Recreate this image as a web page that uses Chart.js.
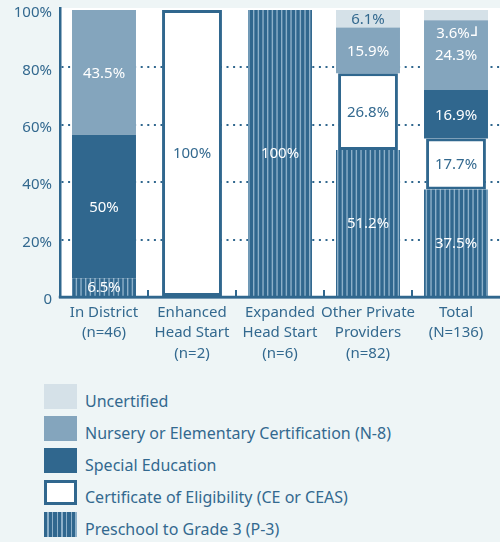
<!DOCTYPE html>
<html>
<head>
<meta charset="utf-8">
<script src="https://cdn.jsdelivr.net/npm/chart.js@4.4.1/dist/chart.umd.min.js"></script>
<style>
  html, body { margin: 0; padding: 0; background: #eef5f6; }
  body { width: 500px; height: 542px; position: relative; overflow: hidden; font-family: "Noto Sans", sans-serif; }
  #wrap { position: absolute; left: 0; top: 0; width: 500px; height: 370px; }
  #legend { position: absolute; left: 44px; top: 384px; }
  .item { position: relative; height: 32px; }
  .sw { position: absolute; left: 0; top: 0; width: 33px; height: 25px; box-sizing: border-box; }
  .txt { position: absolute; left: 41px; top: 7px; font-size: 16px; color: #33698f; white-space: nowrap; line-height: 20px; }
</style>
</head>
<body>
<div id="wrap"><canvas id="chart"></canvas></div>
<div id="legend"></div>
<script>
const categories = [
  ['In District', '(n=46)'],
  ['Enhanced', 'Head Start', '(n=2)'],
  ['Expanded', 'Head Start', '(n=6)'],
  ['Other Private', 'Providers', '(n=82)'],
  ['Total', '(N=136)'],
];
const preschoolP3 = [6.5, 0, 100, 51.2, 37.5];
const eligibilityCE = [0, 100, 0, 26.8, 17.7];
const specialEd = [50, 0, 0, 0, 16.9];
const nurseryN8 = [43.5, 0, 0, 15.9, 24.3];
const uncertified = [0, 0, 0, 6.1, 3.6];
const yTicks = [0, 20, 40, 60, 80, 100];

const DARK = '#30678e';
const TEXT = '#33698f';
const MID = '#84a5bd';
const LIGHT = '#d5e1e8';

function stripePattern() {
  const c = document.createElement('canvas');
  c.width = 14; c.height = 10;
  const g = c.getContext('2d');
  g.fillStyle = DARK;
  g.fillRect(0, 0, 14, 10);
  g.fillStyle = '#8db0c9';
  [1, 5.67, 10.33].forEach((x) => g.fillRect(x, 0, 1.4, 10));
  return g.createPattern(c, 'repeat');
}
const stripes = stripePattern();

const labelColors = ['#ffffff', TEXT, '#ffffff', '#ffffff', TEXT];

// white plot area behind the grid
const plotBg = {
  id: 'plotBg',
  beforeDraw(chart) {
    const { ctx, chartArea: a } = chart;
    ctx.save();
    ctx.fillStyle = '#ffffff';
    ctx.fillRect(a.left, a.top, a.right - a.left, a.bottom - a.top);
    ctx.restore();
  },
};

// baseline + little upward ticks between categories
const baseTicks = {
  id: 'baseTicks',
  afterDatasetsDraw(chart) {
    const { ctx, chartArea: a, scales: { x } } = chart;
    ctx.save();
    ctx.strokeStyle = DARK;
    ctx.lineWidth = 2.5;
    ctx.beginPath();
    ctx.moveTo(a.left - 1.25, a.bottom);
    ctx.lineTo(a.right, a.bottom);
    ctx.stroke();
    ctx.lineWidth = 2;
    for (let i = 1; i < categories.length; i++) {
      const px = (x.getPixelForValue(i - 1) + x.getPixelForValue(i)) / 2;
      ctx.beginPath();
      ctx.moveTo(px, a.bottom);
      ctx.lineTo(px, a.bottom - 7);
      ctx.stroke();
    }
    ctx.restore();
  },
};

const barLabels = {
  id: 'barLabels',
  afterDatasetsDraw(chart) {
    const { ctx } = chart;
    ctx.save();
    ctx.font = '15px "Noto Sans"';
    ctx.textAlign = 'center';
    ctx.textBaseline = 'middle';
    chart.data.datasets.forEach((ds, di) => {
      const meta = chart.getDatasetMeta(di);
      meta.data.forEach((el, i) => {
        const v = ds.data[i];
        if (!v) return;
        const txt = v + '%';
        ctx.fillStyle = labelColors[di];
        if (di === 4 && v < 5) {
          // small slice: label sits below with a corner mark
          ctx.fillStyle = '#ffffff';
          ctx.fillText(txt, el.x - 3, el.base + 13);
          ctx.strokeStyle = '#ffffff';
          ctx.lineWidth = 1.5;
          ctx.beginPath();
          ctx.moveTo(el.x + 20, el.base + 6);
          ctx.lineTo(el.x + 20, el.base + 15);
          ctx.lineTo(el.x + 15, el.base + 15);
          ctx.stroke();
          return;
        }
        ctx.fillText(txt, el.x, (el.y + el.base) / 2 + 1);
      });
    });
    ctx.restore();
  },
};

new Chart(document.getElementById('chart'), {
  type: 'bar',
  data: {
    labels: categories,
    datasets: [
      { label: 'Preschool to Grade 3 (P-3)', data: preschoolP3, backgroundColor: stripes, borderWidth: 0 },
      { label: 'Certificate of Eligibility (CE or CEAS)', data: eligibilityCE, backgroundColor: '#ffffff', borderColor: DARK, borderWidth: 3, borderSkipped: false, barPercentage: 0.68 },
      { label: 'Special Education', data: specialEd, backgroundColor: DARK, borderWidth: 0 },
      { label: 'Nursery or Elementary Certification (N-8)', data: nurseryN8, backgroundColor: MID, borderWidth: 0 },
      { label: 'Uncertified', data: uncertified, backgroundColor: LIGHT, borderWidth: 0 },
    ],
  },
  options: {
    responsive: true,
    maintainAspectRatio: false,
    animation: false,
    layout: { padding: { top: 8, right: 0, left: 0, bottom: 0 } },
    datasets: { bar: { categoryPercentage: 1, barPercentage: 0.727 } },
    plugins: { legend: { display: false }, tooltip: { enabled: false } },
    scales: {
      x: {
        stacked: true,
        grid: { display: false, drawTicks: false },
        border: { display: true, color: DARK, width: 2.5 },
        ticks: { color: TEXT, font: { family: 'Noto Sans', size: 15, lineHeight: 1.38 }, padding: 5, maxRotation: 0, autoSkip: false },
        afterFit(s) { s.height = 73; s.paddingLeft = 0; s.paddingRight = 0; },
      },
      y: {
        stacked: true,
        min: 0,
        max: 100.7,
        afterBuildTicks(s) { s.ticks = yTicks.map((v) => ({ value: v })); },
        grid: {
          drawTicks: false,
          lineWidth: 2,
          color: (c) => (c.tick && c.tick.value > 0 && c.tick.value < 100 ? DARK : 'rgba(0,0,0,0)'),
        },
        border: { display: true, color: DARK, width: 2.5, dash: [2, 4.6] },
        ticks: {
          color: TEXT,
          font: { family: 'Noto Sans', size: 15 },
          padding: 8,
          labelOffset: 3,
          callback: (v) => (v === 0 ? '0' : v + '%'),
        },
        afterFit(s) { s.width = 60; s.paddingTop = 0; s.paddingBottom = 0; },
      },
    },
  },
  plugins: [plotBg, baseTicks, barLabels],
});

// legend (top to bottom as in the figure)
const legendItems = [
  { text: 'Uncertified', style: 'background:' + LIGHT },
  { text: 'Nursery or Elementary Certification (N-8)', style: 'background:' + MID },
  { text: 'Special Education', style: 'background:' + DARK },
  { text: 'Certificate of Eligibility (CE or CEAS)', style: 'background:#fff;border:3px solid ' + DARK },
  { text: 'Preschool to Grade 3 (P-3)', style: 'background:repeating-linear-gradient(90deg,' + DARK + ' 0,' + DARK + ' 3.3px,#8db0c9 3.3px,#8db0c9 4.7px)' },
];
document.getElementById('legend').innerHTML = legendItems
  .map((it) => `<div class="item"><div class="sw" style="${it.style}"></div><div class="txt">${it.text}</div></div>`)
  .join('');
</script>
</body>
</html>
